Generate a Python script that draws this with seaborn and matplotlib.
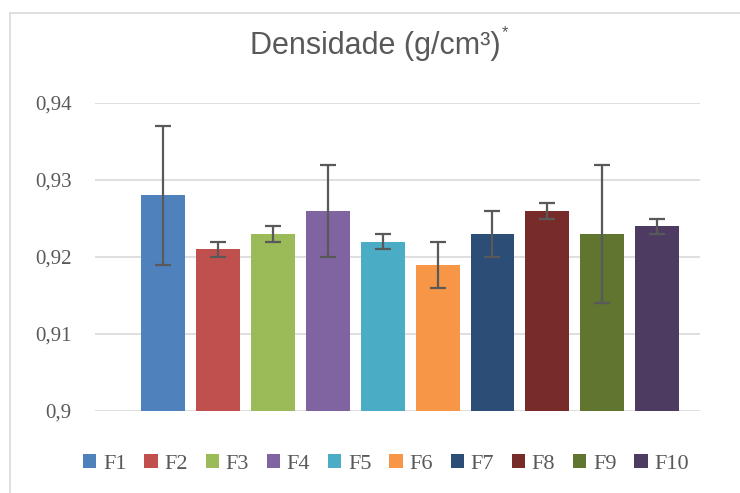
import matplotlib
matplotlib.use("Agg")
import matplotlib.pyplot as plt
import seaborn as sns
import pandas as pd
import numpy as np
from matplotlib.lines import Line2D
from matplotlib.patches import Patch

# data
samples = ["F1", "F2", "F3", "F4", "F5", "F6", "F7", "F8", "F9", "F10"]
density = [0.928, 0.921, 0.923, 0.926, 0.922, 0.919, 0.923, 0.926, 0.923, 0.924]
errors = [0.009, 0.001, 0.001, 0.006, 0.001, 0.003, 0.003, 0.001, 0.009, 0.001]
colors = ["#4F81BD", "#C0504D", "#9BBB59", "#8064A2", "#4BACC6",
          "#F79646", "#2C4D75", "#772C2A", "#5F7530", "#4D3B62"]
yticks = [0.90, 0.91, 0.92, 0.93, 0.94]

df = pd.DataFrame({"amostra": samples, "densidade": density, "erro": errors})

sns.set_style("white")
gray = "#595959"
grid = "#D9D9D9"

fig = plt.figure(figsize=(7.4, 4.93), dpi=100)
ax = fig.add_axes([95 / 740, 1 - 411 / 493, 605 / 740, 308 / 493])

sns.barplot(data=df, x="amostra", y="densidade", hue="amostra",
            palette=colors, width=0.8, ax=ax, legend=False, errorbar=None,
            saturation=1, linewidth=0, edgecolor="none", zorder=2)
ax.errorbar(np.arange(len(samples)), df["densidade"], yerr=df["erro"],
            fmt="none", ecolor=gray, elinewidth=1.6, capsize=5.5,
            capthick=1.6, zorder=3)

ax.set_ylim(0.9, 0.94)
ax.set_xlim(-1.24, 9.78)
ax.set_yticks(yticks)
ax.set_yticklabels([f"{v:g}".replace(".", ",") for v in yticks],
                   family="Liberation Serif", fontsize=15, color=gray)
ax.tick_params(axis="y", length=0, pad=17)
ax.set_xticks([])
ax.set_xlabel("")
ax.set_ylabel("")
for v in yticks:
    ax.axhline(v, color=grid, linewidth=1.2, zorder=0)
for s in ["left", "right", "top", "bottom"]:
    ax.spines[s].set_visible(False)

fig.text(375 / 740, 1 - 46 / 493, "Densidade (g/cm³)",
         family="Liberation Sans", fontsize=22, color=gray,
         ha="center", va="center")
fig.text(505 / 740, 1 - 33 / 493, "*",
         family="Liberation Sans", fontsize=12, color=gray,
         ha="center", va="center")

handles = [Patch(facecolor=c, edgecolor="none") for c in colors]
fig.legend(handles, samples, loc="center", bbox_to_anchor=(386 / 740, 1 - 464 / 493),
           ncol=10, frameon=False, handlelength=0.6, handleheight=0.6,
           handletextpad=0.3, columnspacing=0.8,
           prop={"family": "Liberation Serif", "size": 16}, labelcolor=gray)

# chart border
fig.add_artist(Line2D([9.5 / 740, 9.5 / 740], [0, 1 - 13 / 493],
                      transform=fig.transFigure, color=grid, linewidth=1.2))
fig.add_artist(Line2D([9.5 / 740, 1], [1 - 13 / 493, 1 - 13 / 493],
                      transform=fig.transFigure, color=grid, linewidth=1.2))

fig.savefig("out.png", dpi=100)
